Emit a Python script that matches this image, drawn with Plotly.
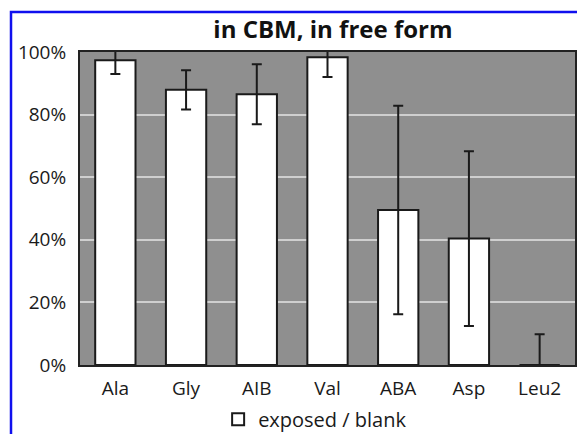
import plotly.graph_objects as go

categories = ["Ala", "Gly", "AIB", "Val", "ABA", "Asp", "Leu2"]
ratio = [0.974, 0.879, 0.865, 0.983, 0.495, 0.404, 0.0]
err = [0.044, 0.063, 0.096, 0.063, 0.333, 0.279, 0.098]
yticks = [0, 0.2, 0.4, 0.6, 0.8, 1.0]
yticklabels = ["0%", "20%", "40%", "60%", "80%", "100%"]

FONT = "Open Sans"

fig = go.Figure()
fig.add_trace(go.Bar(
    x=categories, y=ratio, name="exposed / blank",
    marker=dict(color="white", line=dict(color="#1a1a1a", width=2)),
    error_y=dict(type="data", array=err, color="#1a1a1a", thickness=2, width=5),
))

fig.update_layout(
    width=577, height=434,
    margin=dict(l=80, r=2, t=52, b=69, autoexpand=False),
    paper_bgcolor="white",
    plot_bgcolor="#8f8f8f",
    bargap=0.43,
    font=dict(family=FONT, color="#1a1a1a", size=19),
    title=dict(text="<b>in CBM, in free form</b>", x=0.577, xref="container", xanchor="center",
               y=1 - 30 / 434, yref="container", yanchor="middle",
               font=dict(family=FONT, size=24, color="#111")),
    showlegend=True,
    legend=dict(orientation="h", x=0.475, xanchor="center", y=-0.173, yanchor="middle",
                font=dict(size=20), itemwidth=30, bgcolor="rgba(0,0,0,0)"),
    yaxis=dict(range=[0, 1], tickvals=yticks, ticktext=yticklabels,
               showgrid=True, gridcolor="#cfcfcf", gridwidth=1.5,
               showline=True, linecolor="#222", linewidth=2, mirror=True,
               ticks="", ticklabelstandoff=8, zeroline=False, fixedrange=True),
    xaxis=dict(showline=True, linecolor="#222", linewidth=2, mirror=True,
               ticks="", ticklabelstandoff=5, fixedrange=True),
)

# blue frame (cropped border of the original figure)
fig.add_shape(type="rect", xref="paper", yref="paper",
              x0=(11 - 80) / 495, x1=1.2, y0=-0.5, y1=(365 - 12) / 313,
              line=dict(color="#1010ee", width=2.5), fillcolor="rgba(0,0,0,0)", layer="above")

fig.write_html("out.html")
